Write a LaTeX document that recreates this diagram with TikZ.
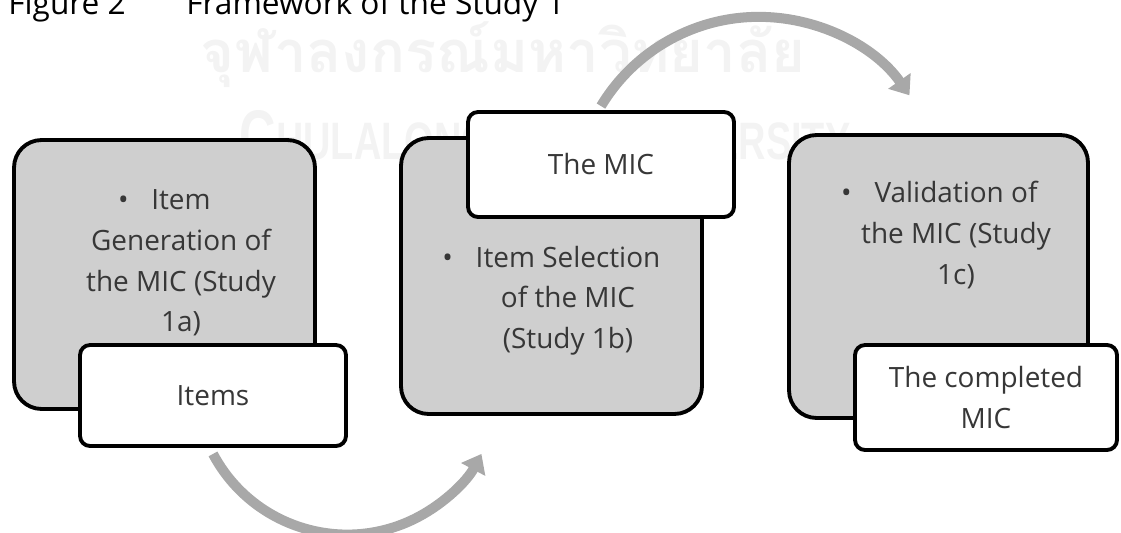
\documentclass[tikz,border=0pt]{standalone}
\usepackage{fontspec}
\setmainfont{Open Sans}
\newfontfamily\thaifont[Script=Thai]{Loma}
\newfontfamily\markfont{Liberation Sans}
\usepackage{xcolor}
\usetikzlibrary{positioning,calc,arrows.meta,backgrounds}

\definecolor{boxgrey}{RGB}{207,207,207}
\definecolor{arrowgrey}{RGB}{168,168,168}
\definecolor{markgrey}{RGB}{243,243,243}
\definecolor{textgrey}{RGB}{55,55,55}
\newcommand{\stagefont}{\fontsize{15.9}{23.2}\selectfont}
\newcommand{\stagebullet}{\llap{\textbullet\hspace{13pt}}}

\begin{document}
\begin{tikzpicture}[x=0.02cm, y=0.02cm,
    stagebox/.style={draw, line width=2.2pt, fill=boxgrey, rounded corners=0.55cm, inner sep=0pt},
    stagetext/.style={align=center, text=textgrey, font=\stagefont, inner sep=0pt},
    outbox/.style={draw, line width=2.2pt, fill=white, rounded corners=0.2cm, inner sep=0pt,
        align=center, text=textgrey, font=\stagefont},
    flowarrow/.style={draw=arrowgrey, line width=5.7pt, -{Triangle[length=10pt, width=15pt]}}]

    \useasboundingbox (0,0) rectangle (1121,532);

    % Title
    \node[anchor=base west, font=\fontsize{18}{21}\selectfont, inner sep=0pt] (fignum) at (8,518) {Figure 2};
    \node[anchor=base west, font=\fontsize{18}{21}\selectfont, inner sep=0pt] (figtitle) at (186,518) {Framework of the Study 1};

    % Study 1a
    \node[stagebox, minimum width=6.02cm, minimum height=5.38cm] (gen) at (164.5,257.5) {};
    \node[stagetext] (gentext) at (181,269) {\stagebullet Item\\Generation of\\the MIC (Study\\1a)};
    \node[outbox, minimum width=5.32cm, minimum height=2.02cm] (items) at (213,136.5) {Items};

    % Study 1b
    \node[stagebox, minimum width=6.02cm, minimum height=5.52cm] (sel) at (551.5,256) {};
    \node[stagetext] (seltext) at (568,231.5) {\stagebullet Item Selection\\of the MIC\\(Study 1b)};
    \node[outbox, minimum width=5.32cm, minimum height=2.10cm] (mic) at (601,367.5) {The MIC};

    % Study 1c
    \node[stagebox, minimum width=5.98cm, minimum height=5.66cm] (val) at (938.5,255.5) {};
    \node[stagetext] (valtext) at (956,297) {\stagebullet Validation of\\the MIC (Study\\1c)};
    \node[outbox, minimum width=5.24cm, minimum height=2.10cm] (done) at (986,134.5) {The completed\\MIC};

    \begin{scope}[on background layer]
        % Watermark
        \node[text=markgrey, inner sep=0pt] (thaimark) at (503,477)
            {\resizebox{12.1cm}{!}{\thaifont\bfseries จุฬาลงกรณ์มหาวิทยาลัย}};
        \node[text=markgrey, inner sep=0pt] (engmark) at (545,397)
            {\scalebox{0.72}[1]{\markfont\bfseries\fontsize{30}{30}\selectfont{\fontsize{40}{40}\selectfont C}HULALONGKORN {\fontsize{40}{40}\selectfont U}NIVERSITY}};

        % Flow arrows
        \draw[flowarrow] ($(items.south)+(0,-6)$) arc[start angle=208, end angle=332, radius=152];
        \draw[flowarrow] ($(mic.north)+(0,4)$) arc[start angle=149, end angle=35, radius=184];
    \end{scope}
\end{tikzpicture}
\end{document}
